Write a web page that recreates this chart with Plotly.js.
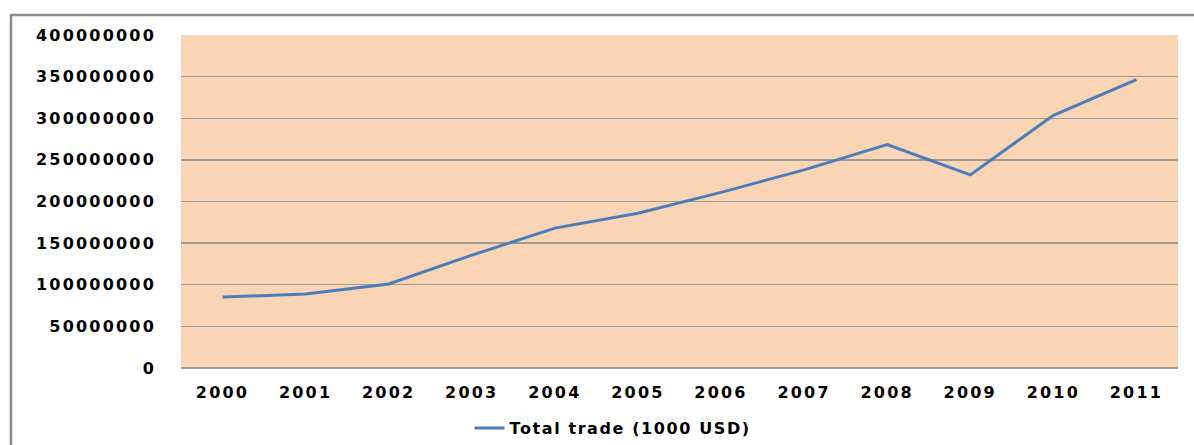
<!DOCTYPE html>
<html>
<head>
<meta charset="utf-8">
<script src="https://cdn.plot.ly/plotly-3.0.1.min.js"></script>
<style>
html,body{margin:0;padding:0;background:#fff;}
#chart{width:1194px;height:445px;}
.xtick text,.ytick text{letter-spacing:2.2px;}
.legendtext{letter-spacing:1.6px;}
</style>
</head>
<body>
<div id="chart"></div>
<script>
var years = ["2000","2001","2002","2003","2004","2005","2006","2007","2008","2009","2010","2011"];
var totalTrade = [85200000, 88800000, 101000000, 135500000, 168000000, 186000000, 211000000, 238000000, 268500000, 232000000, 303500000, 346500000];
var yTickVals = [0, 50000000, 100000000, 150000000, 200000000, 250000000, 300000000, 350000000, 400000000];
var yTickText = ["0","50000000","100000000","150000000","200000000","250000000","300000000","350000000","400000000"];

var W = 1194, H = 445;
var L = 181, R = 16, T = 35, B = 77;
var pw = W - L - R, ph = H - T - B;
function px(x){ return (x - L) / pw; }
function py(y){ return (H - B - y) / ph; }

var trace = {
  x: years, y: totalTrade, type: 'scatter', mode: 'lines',
  name: 'Total trade (1000 USD)',
  line: {color: '#4a7ebb', width: 3}
};

var font = {family: 'DejaVu Sans, Verdana, sans-serif', size: 16, color: '#000', weight: 'bold'};

var layout = {
  width: W, height: H,
  margin: {l: L, r: R, t: T, b: B, pad: 0, autoexpand: false},
  paper_bgcolor: '#ffffff',
  plot_bgcolor: '#fad5b5',
  showlegend: true,
  legend: {orientation: 'h', x: px(613), xanchor: 'center', y: py(428), yanchor: 'middle',
           font: {family: 'DejaVu Sans, Verdana, sans-serif', size: 16, color: '#000', weight: 'bold'},
           bgcolor: 'rgba(0,0,0,0)'},
  xaxis: {type: 'category', range: [-0.5, 11.5], showgrid: false, zeroline: false, showline: false,
          ticks: '', tickfont: font, ticklabelstandoff: 13, automargin: false},
  yaxis: {range: [0, 400000000], tickvals: yTickVals, ticktext: yTickText,
          showgrid: true, gridcolor: '#a09a94', gridwidth: 1.3, zeroline: true, zerolinecolor: '#a09a94', zerolinewidth: 1.3,
          showline: false, ticks: '', tickfont: font, ticklabelstandoff: 24, automargin: false},
  shapes: [
    {type: 'line', xref: 'paper', yref: 'paper', x0: px(11), x1: px(11), y0: py(15), y1: py(450), line: {color: '#8a8a8a', width: 2.5}},
    {type: 'line', xref: 'paper', yref: 'paper', x0: px(10), x1: px(1200), y0: py(15), y1: py(15), line: {color: '#8a8a8a', width: 2.5}}
  ]
};

Plotly.newPlot('chart', [trace], layout, {displayModeBar: false, staticPlot: true});
</script>
</body>
</html>
